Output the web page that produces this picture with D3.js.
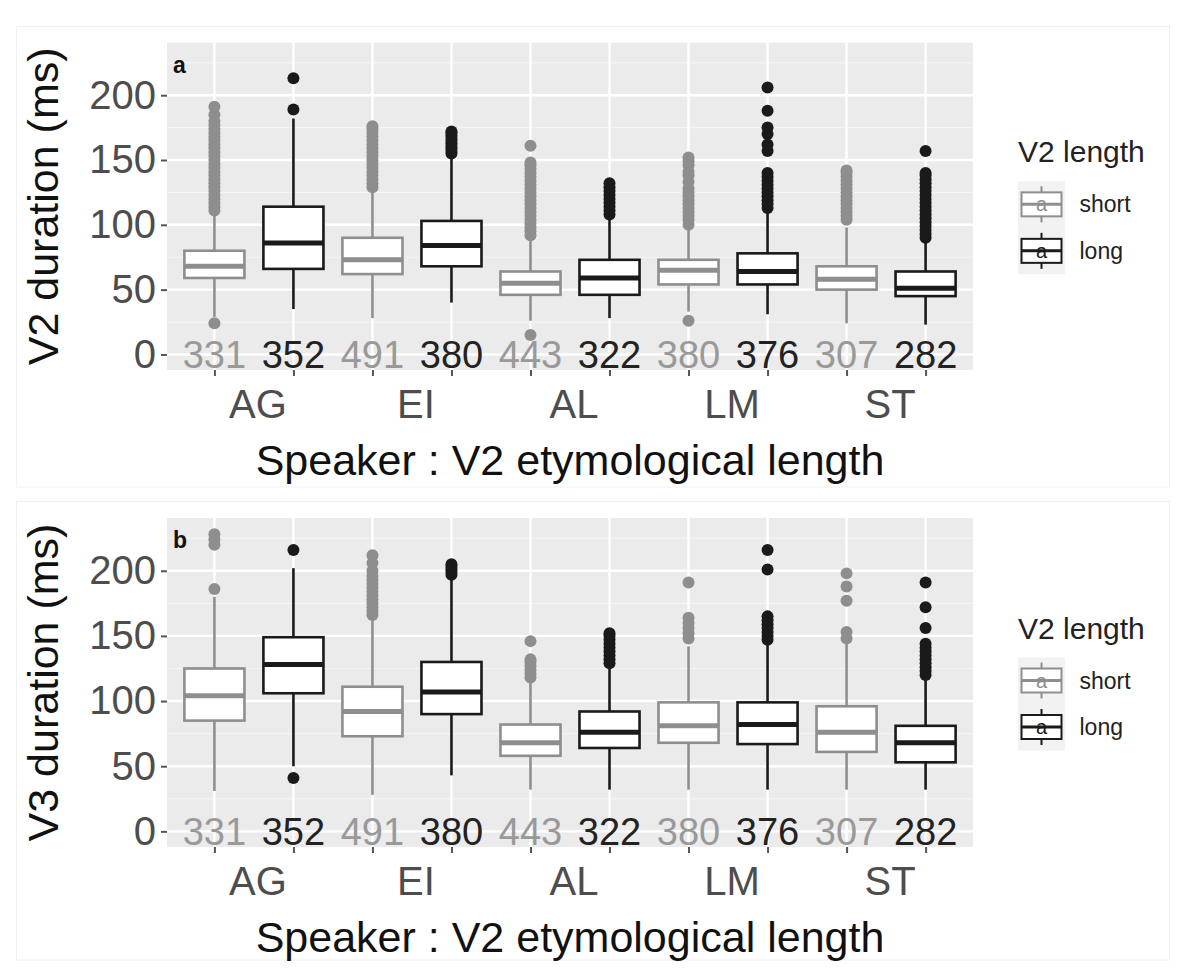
<!DOCTYPE html>
<html lang="en">
<head>
<meta charset="UTF-8">
<script src="https://cdn.jsdelivr.net/npm/d3@7"></script>
<title>V2 / V3 duration boxplots</title>
<style>
  body { margin: 0; background: white; }
  svg { display: block; font-family: "Liberation Sans", Arial, sans-serif; }
</style>
</head>
<body>
<div id="chart"></div>
<script>
// categories: speaker x V2 length
const speakers = ["AG", "EI", "AL", "LM", "ST"];
const lengths = ["short", "long"];
const counts = [331, 352, 491, 380, 443, 322, 380, 376, 307, 282];
const yTicks = [0, 50, 100, 150, 200];
const yMinor = [25, 75, 125, 175, 225];

// panel a: V2 duration (ms), order AG short, AG long, EI short, ...
const v2Low = [29, 35, 28, 40, 26, 28, 33, 31, 24, 23];
const v2Q1 = [59, 66, 62, 68, 46, 46, 54, 54, 50, 45];
const v2Median = [68, 86, 73, 84, 55, 59, 65, 64, 58, 51];
const v2Q3 = [80, 114, 90, 103, 64, 73, 73, 78, 68, 64];
const v2High = [107, 182, 128, 153, 90, 105, 98, 111, 98, 88];
const v2Outliers = [
  [24, 111, 114, 117, 120, 123, 126, 129, 132, 135, 138, 141, 144, 147, 150, 153, 156, 159, 162, 165, 168, 171, 174, 177, 180, 185, 191],
  [189, 213],
  [129, 132, 135, 138, 141, 144, 147, 150, 153, 156, 159, 162, 165, 168, 171, 174, 176],
  [155, 157, 159, 161, 163, 165, 167, 169, 171, 172],
  [15, 92, 95, 98, 101, 104, 107, 110, 113, 116, 119, 122, 125, 128, 131, 134, 137, 140, 143, 146, 148, 161],
  [108, 111, 114, 117, 120, 123, 126, 129, 132],
  [26, 100, 104, 107, 110, 113, 116, 119, 122, 125, 128, 133, 138, 141, 146, 149, 152],
  [113, 116, 119, 122, 125, 128, 131, 134, 137, 140, 157, 162, 170, 175, 188, 206],
  [104, 107, 110, 113, 116, 119, 122, 125, 128, 131, 134, 137, 140, 142],
  [90, 93, 96, 99, 102, 105, 108, 111, 114, 117, 120, 123, 126, 129, 132, 135, 138, 140, 157]
];

// panel b: V3 duration (ms)
const v3Low = [31, 50, 28, 43, 32, 32, 32, 32, 32, 32];
const v3Q1 = [85, 106, 73, 90, 58, 64, 68, 67, 61, 53];
const v3Median = [104, 128, 92, 107, 68, 76, 81, 82, 76, 68];
const v3Q3 = [125, 149, 111, 130, 82, 92, 99, 99, 96, 81];
const v3High = [180, 202, 163, 194, 114, 127, 142, 145, 145, 118];
const v3Outliers = [
  [186, 220, 224, 228],
  [41, 216],
  [166, 169, 172, 175, 178, 181, 184, 187, 190, 193, 196, 200, 206, 212],
  [197, 199, 201, 203, 205],
  [118, 121, 124, 127, 130, 132, 146],
  [129, 132, 135, 138, 141, 144, 147, 150, 152],
  [148, 152, 156, 160, 164, 191],
  [147, 150, 153, 156, 159, 162, 165, 201, 216],
  [148, 153, 177, 188, 198],
  [120, 123, 126, 129, 132, 135, 138, 141, 144, 156, 172, 191]
];

const W = 1200, H = 971;
const colors = { short: "#8e8e8e", long: "#1a1a1a" };
const keys = [];
speakers.forEach(s => lengths.forEach(l => keys.push(s + ":" + l)));

const svg = d3.select("#chart").append("svg")
  .attr("width", W).attr("height", H);

const x = d3.scalePoint().domain(keys).range([167, 973]).padding(0.6);
const boxW = x.step() * 0.76;

function drawPanel(cfg) {
  const g = svg.append("g");
  const top = cfg.top, bottom = cfg.bottom;
  const y = d3.scaleLinear().domain([-12, 240.5]).range([bottom, top]);

  // outer frame
  g.append("rect")
    .attr("x", 16.5).attr("y", cfg.frameTop)
    .attr("width", 1153).attr("height", cfg.frameBottom - cfg.frameTop)
    .attr("fill", "white").attr("stroke", "#f0f0f0");

  // panel background + grid
  g.append("rect")
    .attr("x", 167).attr("y", top)
    .attr("width", 973 - 167).attr("height", bottom - top)
    .attr("fill", "#ebebeb");
  g.selectAll(".minor").data(yMinor).join("line")
    .attr("x1", 167).attr("x2", 973)
    .attr("y1", d => y(d)).attr("y2", d => y(d))
    .attr("stroke", "#f4f4f4").attr("stroke-width", 1.2);
  g.selectAll(".major").data(yTicks).join("line")
    .attr("x1", 167).attr("x2", 973)
    .attr("y1", d => y(d)).attr("y2", d => y(d))
    .attr("stroke", "white").attr("stroke-width", 2.4);
  g.selectAll(".vgrid").data(keys).join("line")
    .attr("x1", d => x(d)).attr("x2", d => x(d))
    .attr("y1", top).attr("y2", bottom)
    .attr("stroke", "white").attr("stroke-width", 2.4);

  // y axis
  const yAxis = g.append("g").attr("transform", "translate(167,0)")
    .call(d3.axisLeft(y).tickValues(yTicks).tickSize(6).tickPadding(5));
  yAxis.select(".domain").remove();
  yAxis.selectAll("line").attr("stroke", "#555").attr("stroke-width", 2);
  yAxis.selectAll("text").attr("font-size", 40).attr("fill", "#4d4d4d")
    .attr("font-family", "Liberation Sans, Arial, sans-serif");

  // x ticks at every box, labels at the speaker midpoints
  const xAxis = g.append("g").attr("transform", `translate(0,${bottom})`)
    .call(d3.axisBottom(x).tickSize(6).tickFormat(""));
  xAxis.select(".domain").remove();
  xAxis.selectAll("line").attr("stroke", "#555").attr("stroke-width", 2);
  g.selectAll(".spk").data(speakers).join("text")
    .attr("x", s => (x(s + ":short") + x(s + ":long")) / 2 + 4)
    .attr("y", bottom + 48)
    .attr("text-anchor", "middle")
    .attr("font-size", 40).attr("fill", "#4d4d4d")
    .text(s => s);

  // boxplots
  const rows = keys.map((k, i) => ({
    key: k, len: k.split(":")[1],
    lo: cfg.low[i], q1: cfg.q1[i], med: cfg.med[i], q3: cfg.q3[i], hi: cfg.high[i],
    out: cfg.out[i], n: counts[i]
  }));
  const box = g.selectAll(".box").data(rows).join("g");
  box.append("line")
    .attr("x1", d => x(d.key)).attr("x2", d => x(d.key))
    .attr("y1", d => y(d.hi)).attr("y2", d => y(d.q3))
    .attr("stroke", d => colors[d.len]).attr("stroke-width", 2.6);
  box.append("line")
    .attr("x1", d => x(d.key)).attr("x2", d => x(d.key))
    .attr("y1", d => y(d.q1)).attr("y2", d => y(d.lo))
    .attr("stroke", d => colors[d.len]).attr("stroke-width", 2.6);
  box.append("rect")
    .attr("x", d => x(d.key) - boxW / 2).attr("width", boxW)
    .attr("y", d => y(d.q3)).attr("height", d => y(d.q1) - y(d.q3))
    .attr("fill", "white").attr("stroke", d => colors[d.len]).attr("stroke-width", 2.6);
  box.append("line")
    .attr("x1", d => x(d.key) - boxW / 2).attr("x2", d => x(d.key) + boxW / 2)
    .attr("y1", d => y(d.med)).attr("y2", d => y(d.med))
    .attr("stroke", d => colors[d.len]).attr("stroke-width", 5);
  box.selectAll("circle").data(d => d.out.map(v => ({ v, d }))).join("circle")
    .attr("cx", o => x(o.d.key)).attr("cy", o => y(o.v)).attr("r", 6)
    .attr("fill", o => colors[o.d.len]);

  // counts at y = 0
  g.selectAll(".cnt").data(rows).join("text")
    .attr("x", d => x(d.key)).attr("y", y(0)).attr("dy", "0.36em")
    .attr("text-anchor", "middle")
    .attr("font-size", 38).attr("fill", d => d.len === "short" ? "#999" : "#222")
    .text(d => d.n);

  // tag
  g.append("text")
    .attr("x", 173).attr("y", top + 30)
    .attr("font-size", 23).attr("font-weight", "bold").attr("fill", "#111")
    .text(cfg.tag);

  // axis titles
  const mid = (top + bottom) / 2;
  g.append("text")
    .attr("transform", `translate(58,${mid}) rotate(-90)`)
    .attr("text-anchor", "middle").attr("font-size", 43).attr("fill", "#111")
    .text(cfg.yTitle);
  g.append("text")
    .attr("x", 570).attr("y", bottom + 105)
    .attr("text-anchor", "middle").attr("font-size", 43).attr("fill", "#111")
    .text("Speaker : V2 etymological length");

  // legend
  const lg = g.append("g").attr("transform", `translate(1018,${mid})`);
  lg.append("text").attr("x", 0).attr("y", -44)
    .attr("font-size", 30).attr("fill", "#222").text("V2 length");
  lg.append("rect").attr("x", 0).attr("y", -25).attr("width", 47).attr("height", 93)
    .attr("fill", "#f2f2f2");
  const item = lg.selectAll(".item").data(lengths).join("g")
    .attr("transform", (d, i) => `translate(23.5,${-2 + i * 46.5})`);
  item.append("line").attr("y1", -18).attr("y2", 18)
    .attr("stroke", d => colors[d]).attr("stroke-width", 2);
  item.append("rect").attr("x", -20).attr("y", -12).attr("width", 40).attr("height", 24)
    .attr("fill", "white").attr("stroke", d => colors[d]).attr("stroke-width", 2);
  item.append("line").attr("x1", -20).attr("x2", 20)
    .attr("stroke", d => colors[d]).attr("stroke-width", 3);
  item.append("text").attr("text-anchor", "middle").attr("dy", "0.35em")
    .attr("font-size", 20).attr("fill", d => colors[d]).text("a");
  item.append("text").attr("x", 38).attr("dy", "0.35em")
    .attr("font-size", 23).attr("fill", "#222").text(d => d);
}

drawPanel({
  top: 42.7, bottom: 370, frameTop: 26.5, frameBottom: 487,
  low: v2Low, q1: v2Q1, med: v2Median, q3: v2Q3, high: v2High, out: v2Outliers,
  tag: "a", yTitle: "V2 duration (ms)"
});
drawPanel({
  top: 518, bottom: 847, frameTop: 501.5, frameBottom: 960,
  low: v3Low, q1: v3Q1, med: v3Median, q3: v3Q3, high: v3High, out: v3Outliers,
  tag: "b", yTitle: "V3 duration (ms)"
});
</script>
</body>
</html>
